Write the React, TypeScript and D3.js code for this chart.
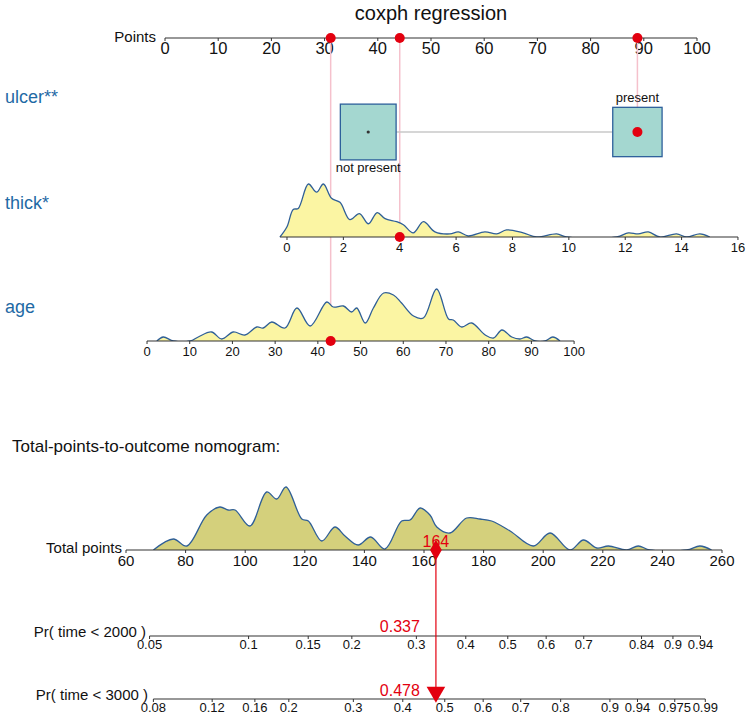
import React from 'react';
import * as d3 from 'd3';

const W = 746;
const H = 715;
const FONT = "'Liberation Sans', Arial, Helvetica, sans-serif";

// ---------- data ----------
const title = 'coxph regression';
const pointsTicks = d3.range(0, 101, 10);

const ulcerLevels = ['not present', 'present'];
const ulcerPoints = [38.2, 88.8];
const ulcerCounts = [115, 90];

const thickTicks = d3.range(0, 17, 2);
const thickDomain = [0, 16];
const thickPointsAt = [22.93, 107.7];
const thickDensX = [-0.25, 0, 0.22, 0.4, 0.76, 1.05, 1.29, 1.58, 1.88, 2.23, 2.57, 2.89, 3.2, 3.48, 3.89, 4.13, 4.48, 4.84, 5.25, 5.78, 6.08, 6.43, 7.02, 7.44, 7.79, 8.38, 8.86, 9.57, 9.92, 11.7, 12.11, 12.46, 12.82, 13.23, 13.82, 14.18, 14.65, 15.0];
const thickDensY = [0, 10, 27, 28, 52, 44, 52, 38, 34, 17, 23, 13, 24, 18, 15, 12, 4, 15, 5, 3, 5, 1, 5, 3, 7, 4, 0, 3, 0, 0, 4, 3, 5, 0, 3, 0, 3, 0];

const ageTicks = d3.range(0, 101, 10);
const ageDomain = [0, 100];
const agePointsAt = [-3.38, 76.9];
const ageDensX = [2.3, 3.8, 6.2, 10.1, 12.0, 15.1, 17.5, 20.2, 22.9, 25.7, 27.2, 29.2, 32.3, 35.1, 38.2, 42.1, 43.6, 46.0, 47.9, 49.1, 51.1, 53.0, 55.4, 57.7, 59.6, 62.4, 64.7, 67.8, 70.6, 71.7, 73.7, 76.0, 79.2, 81.1, 83.1, 85.4, 87.3, 88.9, 90.9, 93.2, 95.0, 96.7];
const ageDensY = [0, 4, 0, 0, 4, 9, 2, 9, 6, 14, 13, 19, 13, 33, 15, 39, 34, 35, 29, 33, 18, 33, 48, 46, 38, 25, 23, 52, 22, 21, 14, 18, 6, 3, 11, 4, 2, 4, 0, 0, 4, 0];

const patientAge = 43;
const patientThick = 4;
const patientUlcer = 'present';

const totalTicks = d3.range(60, 261, 20);
const totalDensX = [69.2, 75.9, 80.4, 87.1, 91.5, 94.3, 96.6, 101.6, 107.2, 110.6, 113.7, 119.0, 121.2, 125.7, 130.1, 133.5, 137.9, 142.1, 146.9, 152.5, 155.3, 158.7, 162.0, 164.3, 168.7, 174.3, 178.8, 182.7, 188.9, 196.7, 202.3, 209.0, 213.5, 218.0, 221.9, 228.0, 231.9, 235.8, 248.1, 252.6, 256.5];
const totalDensY = [0, 11, 4, 35, 43, 40, 40, 24, 58, 51, 63, 31, 29, 9, 23, 14, 5, 13, 1, 29, 30, 42, 35, 23, 17, 32, 31, 29, 19, 4, 17, 0, 10, 2, 4, 0, 4, 0, 0, 4, 0];

const pr2000Ticks = [0.05, 0.1, 0.15, 0.2, 0.3, 0.4, 0.5, 0.6, 0.7, 0.84, 0.9, 0.94];
const pr3000Ticks = [0.08, 0.12, 0.16, 0.2, 0.3, 0.4, 0.5, 0.6, 0.7, 0.8, 0.9, 0.94, 0.975, 0.99];
const cloglogSlope = 0.02166;
const pr2000Intercept = -4.441;
const pr3000Intercept = -3.983;

// ---------- styles ----------
const C_AXIS = '#333333';
const C_LABEL = '#1f6aa5';
const C_RED = '#e3000f';
const C_PINK = '#f5c1cc';
const C_DENS_STROKE = '#2f5f97';
const C_VAR_FILL = '#fbf5a3';
const C_TOT_FILL = '#d4d07c';
const C_BOX_FILL = '#a4d7d0';
const C_BOX_STROKE = '#2d5f9b';

// ---------- layout ----------
const Y_POINTS = 38;
const Y_ULCER = 132;
const Y_THICK = 237;
const Y_AGE = 341;
const Y_TOTAL = 550;
const Y_PR1 = 636;
const Y_PR2 = 699;

const ptsScale = d3.scaleLinear().domain([0, 100]).range([165, 697]);
const thickScale = d3.scaleLinear().domain(thickDomain).range(thickPointsAt.map((p) => ptsScale(p)));
const ageScale = d3.scaleLinear().domain(ageDomain).range(agePointsAt.map((p) => ptsScale(p)));
const thickToPts = d3.scaleLinear().domain(thickDomain).range(thickPointsAt);
const ageToPts = d3.scaleLinear().domain(ageDomain).range(agePointsAt);
const totalScale = d3.scaleLinear().domain([60, 260]).range([126, 722]);

const cloglog = (p: number) => Math.log(-Math.log(1 - p));
const prToX = (p: number, a: number) => totalScale((cloglog(p) - a) / cloglogSlope);
const ptsToPr = (pts: number, a: number) => 1 - Math.exp(-Math.exp(a + cloglogSlope * pts));

function densPath(xs: number[], ys: number[], xScale: (v: number) => number, baseY: number, maxH: number) {
  const yMax = d3.max(ys) as number;
  const hs = d3.scaleLinear().domain([0, yMax]).range([0, maxH]);
  const data = xs.map((x, i) => [x, ys[i]] as [number, number]);
  const curve = d3.curveCatmullRom.alpha(0.5);
  const area = d3
    .area<[number, number]>()
    .x((d) => xScale(d[0]))
    .y0(baseY)
    .y1((d) => baseY - hs(d[1]))
    .curve(curve);
  const line = d3
    .line<[number, number]>()
    .x((d) => xScale(d[0]))
    .y((d) => baseY - hs(d[1]))
    .curve(curve);
  return { area: area(data) || '', line: line(data) || '' };
}

function Axis({ x0, x1, y, ticks, pos, fmt, fontSize, labelDy }: any) {
  return (
    <g>
      <line x1={x0} x2={x1} y1={y} y2={y} stroke={C_AXIS} strokeWidth={1.2} />
      {ticks.map((t: number, i: number) => (
        <g key={i}>
          <line x1={pos(t)} x2={pos(t)} y1={y} y2={y + 3} stroke={C_AXIS} strokeWidth={1} />
          <text x={pos(t)} y={y + labelDy} fontSize={fontSize} textAnchor="middle" fill="#111">
            {fmt ? fmt(t) : String(t)}
          </text>
        </g>
      ))}
    </g>
  );
}

export default function App() {
  const ulcerIdx = ulcerLevels.indexOf(patientUlcer);
  const agePts = ageToPts(patientAge);
  const thickPts = thickToPts(patientThick);
  const ulcerPts = ulcerPoints[ulcerIdx];
  const total = agePts + thickPts + ulcerPts;
  const totalR = Math.round(total);
  const p1 = ptsToPr(totalR, pr2000Intercept);
  const p2 = ptsToPr(totalR, pr3000Intercept);
  const xTot = totalScale(totalR);

  const thickD = densPath(thickDensX, thickDensY, thickScale, Y_THICK, 53);
  const ageD = densPath(ageDensX, ageDensY, ageScale, Y_AGE, 52);
  const totD = densPath(totalDensX, totalDensY, totalScale, Y_TOTAL, 63);

  const boxK = 5.2;
  const boxes = ulcerLevels.map((lv, i) => {
    const s = boxK * Math.sqrt(ulcerCounts[i]);
    return { lv, cx: ptsScale(ulcerPoints[i]), s };
  });

  const markers = [
    { pts: ulcerPts, y: Y_ULCER },
    { pts: thickPts, y: Y_THICK },
    { pts: agePts, y: Y_AGE },
  ];

  const tri = d3.symbol().type(d3.symbolTriangle).size(150)() || '';
  const dia = d3.symbol().type(d3.symbolDiamond).size(120)() || '';

  return (
    <svg
      width={W}
      height={H}
      viewBox={`0 0 ${W} ${H}`}
      style={{ position: 'absolute', left: 0, top: 0, background: '#fff', fontFamily: FONT }}
    >
      <defs>
        <clipPath id="clipThick"><rect x={0} y={0} width={W} height={Y_THICK} /></clipPath>
        <clipPath id="clipAge"><rect x={0} y={0} width={W} height={Y_AGE} /></clipPath>
        <clipPath id="clipTot"><rect x={0} y={0} width={W} height={Y_TOTAL} /></clipPath>
      </defs>
      <rect x={0} y={0} width={W} height={H} fill="#fff" />
      <text x={431} y={20} fontSize={20} textAnchor="middle" fill="#111">
        {title}
      </text>

      {/* Points axis */}
      <text x={156} y={42} fontSize={15} textAnchor="end" fill="#111">Points</text>
      <Axis x0={ptsScale(0)} x1={ptsScale(100)} y={Y_POINTS} ticks={pointsTicks} pos={ptsScale} fontSize={16.5} labelDy={16} />

      {/* variable labels */}
      <text x={5} y={103} fontSize={18} fill={C_LABEL}>ulcer**</text>
      <text x={5} y={209} fontSize={18} fill={C_LABEL}>thick*</text>
      <text x={5} y={313} fontSize={18} fill={C_LABEL}>age</text>

      {/* pink connector lines */}
      {markers.map((m, i) => (
        <line key={i} x1={ptsScale(m.pts)} x2={ptsScale(m.pts)} y1={Y_POINTS} y2={m.y} stroke={C_PINK} strokeWidth={1.5} />
      ))}

      {/* ulcer */}
      <line x1={boxes[0].cx + boxes[0].s / 2} x2={boxes[1].cx - boxes[1].s / 2} y1={Y_ULCER} y2={Y_ULCER} stroke="#c8c8c8" strokeWidth={1.5} />
      {boxes.map((b, i) => (
        <g key={i}>
          <rect x={b.cx - b.s / 2} y={Y_ULCER - b.s / 2} width={b.s} height={b.s} fill={C_BOX_FILL} stroke={C_BOX_STROKE} strokeWidth={1.3} />
          <text x={b.cx} y={i === 0 ? Y_ULCER + b.s / 2 + 12 : Y_ULCER - b.s / 2 - 5} fontSize={13} textAnchor="middle" fill="#111">
            {b.lv}
          </text>
        </g>
      ))}
      <circle cx={boxes[0].cx} cy={Y_ULCER} r={1.6} fill="#333" />

      {/* thick */}
      <g clipPath="url(#clipThick)">
        <path d={thickD.area} fill={C_VAR_FILL} />
        <path d={thickD.line} fill="none" stroke={C_DENS_STROKE} strokeWidth={1.3} />
      </g>
      <Axis x0={thickScale(thickDensX[0])} x1={thickScale(16)} y={Y_THICK} ticks={thickTicks} pos={thickScale} fontSize={13} labelDy={15} />

      {/* age */}
      <g clipPath="url(#clipAge)">
        <path d={ageD.area} fill={C_VAR_FILL} />
        <path d={ageD.line} fill="none" stroke={C_DENS_STROKE} strokeWidth={1.3} />
      </g>
      <Axis x0={ageScale(0)} x1={ageScale(100)} y={Y_AGE} ticks={ageTicks} pos={ageScale} fontSize={13} labelDy={15} />

      {/* red dots */}
      {markers.map((m, i) => (
        <g key={i}>
          <circle cx={ptsScale(m.pts)} cy={Y_POINTS} r={5} fill={C_RED} />
          <circle cx={ptsScale(m.pts)} cy={m.y} r={5} fill={C_RED} />
        </g>
      ))}

      {/* total section */}
      <text x={12} y={452} fontSize={17} fill="#111">Total-points-to-outcome nomogram:</text>
      <g clipPath="url(#clipTot)">
        <path d={totD.area} fill={C_TOT_FILL} />
        <path d={totD.line} fill="none" stroke={C_DENS_STROKE} strokeWidth={1.3} />
      </g>
      <text x={122} y={553} fontSize={15} textAnchor="end" fill="#111">Total points</text>
      <Axis x0={totalScale(60)} x1={totalScale(260)} y={Y_TOTAL} ticks={totalTicks} pos={totalScale} fontSize={15} labelDy={16} />

      <text x={146} y={637} fontSize={15} textAnchor="end" fill="#111">Pr( time &lt; 2000 )</text>
      <Axis x0={prToX(pr2000Ticks[0], pr2000Intercept)} x1={prToX(pr2000Ticks[pr2000Ticks.length - 1], pr2000Intercept)} y={Y_PR1} ticks={pr2000Ticks} pos={(p: number) => prToX(p, pr2000Intercept)} fontSize={13} labelDy={13} />

      <text x={148} y={700} fontSize={15} textAnchor="end" fill="#111">Pr( time &lt; 3000 )</text>
      <Axis x0={prToX(pr3000Ticks[0], pr3000Intercept)} x1={prToX(pr3000Ticks[pr3000Ticks.length - 1], pr3000Intercept)} y={Y_PR2} ticks={pr3000Ticks} pos={(p: number) => prToX(p, pr3000Intercept)} fontSize={13} labelDy={13} />

      {/* red result */}
      <line x1={xTot} x2={xTot} y1={Y_TOTAL} y2={Y_PR2 - 12} stroke={C_RED} strokeWidth={1.2} />
      <path d={dia} transform={`translate(${xTot},${Y_TOTAL})`} fill={C_RED} />
      <text x={xTot} y={547} fontSize={16} textAnchor="middle" fill={C_RED}>{totalR}</text>
      <text x={xTot - 16} y={632} fontSize={16} textAnchor="end" fill={C_RED}>{p1.toFixed(3)}</text>
      <text x={xTot - 16} y={696} fontSize={16} textAnchor="end" fill={C_RED}>{p2.toFixed(3)}</text>
      <path d={tri} transform={`translate(${xTot},${Y_PR2 - 7}) rotate(180)`} fill={C_RED} />
    </svg>
  );
}
